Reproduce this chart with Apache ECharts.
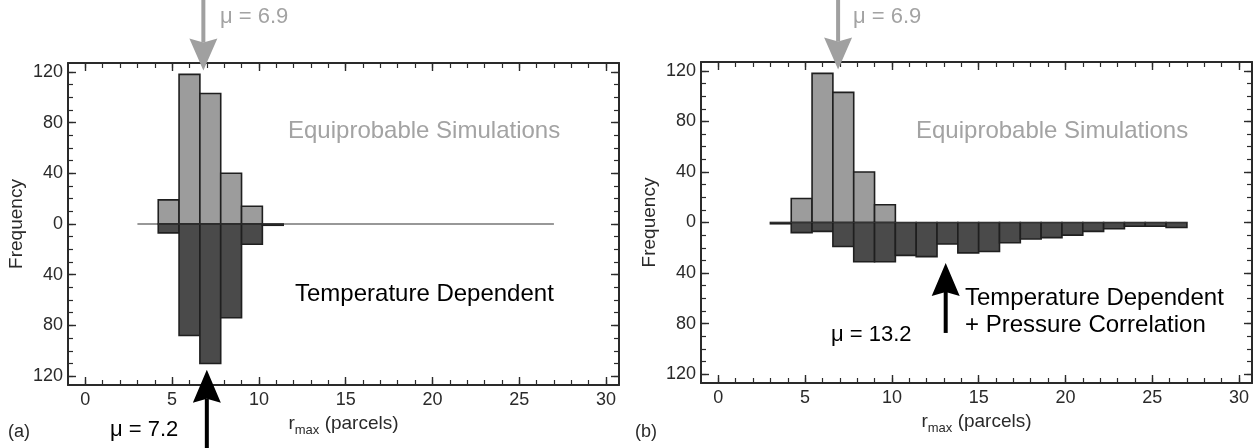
<!DOCTYPE html>
<html>
<head>
<meta charset="utf-8">
<script src="https://cdn.jsdelivr.net/npm/echarts@6/dist/echarts.min.js"></script>
<style>
html, body { margin: 0; padding: 0; background: #fff; }
#main { width: 1253px; height: 448px; }
</style>
</head>
<body>
<div id="main"></div>
<script>
var myChart = echarts.init(document.getElementById('main'));

// histogram bins: 20 bins of width 1.2 starting at r = 3
var binStart = 3;
var binWidth = 1.2;
var equiprobable  = [0, 19, 118, 103, 40, 14, 0, 0, 0, 0, 0, 0, 0, 0, 0, 0, 0, 0, 0, 0];
var tempDependent = [0, 7, 88, 110, 74, 16, 1, 0, 0, 0, 0, 0, 0, 0, 0, 0, 0, 0, 0, 0];
var tempPressure  = [1, 8, 7, 19, 31, 31, 26, 27, 17, 24, 23, 16, 13, 12, 10, 7, 5, 3, 3, 4];
var baseline = [[3, 0], [27, 0]];

var xMajor = [0, 5, 10, 15, 20, 25, 30];
var xMinor = [0, 1, 2, 3, 4, 5, 6, 7, 8, 9, 10, 11, 12, 13, 14, 15, 16, 17, 18, 19, 20,
              21, 22, 23, 24, 25, 26, 27, 28, 29, 30];
var yMajor = [-120, -80, -40, 0, 40, 80, 120];
var yMinor = [-120, -110, -100, -90, -80, -70, -60, -50, -40, -30, -20, -10, 0,
              10, 20, 30, 40, 50, 60, 70, 80, 90, 100, 110, 120];

// arrows: [x, y of the tip]
var grayArrowA = [[6.8, 121]];
var grayArrowB = [[6.9, 121]];
var blackArrowA = [[7.0, -115]];
var blackArrowB = [[13.1, -32]];

var FONT = "'Liberation Sans', Arial, Helvetica, sans-serif";
var INK = '#2a2a2a';
var GRAY_TXT = '#a3a3a3';

var grids = [
    {left: 68, top: 63, width: 551, height: 322},
    {left: 701, top: 62, width: 551, height: 321}
];

var xAxes = [], yAxes = [];
function addAxes(g) {
    var common = {type: 'value', gridIndex: g, splitLine: {show: false}};
    var line = {show: true, onZero: false, lineStyle: {color: INK, width: 2}};
    var noLine = {show: false, onZero: false};
    // bottom, major + labels
    xAxes.push(Object.assign({}, common, {
        position: 'bottom', min: -1, max: 30.75,
        name: '{a|r}{b|max}{a| (parcels)}', nameLocation: 'middle', nameGap: 25,
        nameTextStyle: {
            rich: {
                a: {fontSize: 19, fontFamily: FONT, color: INK},
                b: {fontSize: 13, fontFamily: FONT, color: INK, padding: [14, 0, 0, 0]}
            }
        },
        axisLine: line,
        axisTick: {show: true, inside: true, length: 8, customValues: xMajor, lineStyle: {color: INK, width: 1.4}},
        axisLabel: {show: true, customValues: xMajor, margin: 6, fontSize: 18, fontFamily: FONT, color: INK}
    }));
    // bottom minor
    xAxes.push(Object.assign({}, common, {
        position: 'bottom', min: -1, max: 30.75,
        axisLine: noLine,
        axisTick: {show: true, inside: true, length: 5, customValues: xMinor, lineStyle: {color: INK, width: 1.2}},
        axisLabel: {show: false}
    }));
    // top major
    xAxes.push(Object.assign({}, common, {
        position: 'top', min: -1, max: 30.75,
        axisLine: line,
        axisTick: {show: true, inside: true, length: 8, customValues: xMajor, lineStyle: {color: INK, width: 1.4}},
        axisLabel: {show: false}
    }));
    // top minor
    xAxes.push(Object.assign({}, common, {
        position: 'top', min: -1, max: 30.75,
        axisLine: noLine,
        axisTick: {show: true, inside: true, length: 5, customValues: xMinor, lineStyle: {color: INK, width: 1.2}},
        axisLabel: {show: false}
    }));

    // left major + labels
    yAxes.push(Object.assign({}, common, {
        position: 'left', min: -127, max: 127,
        name: 'Frequency', nameLocation: 'middle', nameGap: 42,
        nameTextStyle: {fontSize: 19, fontFamily: FONT, color: INK},
        axisLine: line,
        axisTick: {show: true, inside: true, length: 8, customValues: yMajor, lineStyle: {color: INK, width: 1.4}},
        axisLabel: {
            show: true, customValues: yMajor, margin: 5, fontSize: 18, fontFamily: FONT, color: INK,
            formatter: function (v) { return Math.abs(v); }
        }
    }));
    yAxes.push(Object.assign({}, common, {
        position: 'left', min: -127, max: 127,
        axisLine: noLine,
        axisTick: {show: true, inside: true, length: 5, customValues: yMinor, lineStyle: {color: INK, width: 1.2}},
        axisLabel: {show: false}
    }));
    yAxes.push(Object.assign({}, common, {
        position: 'right', min: -127, max: 127,
        axisLine: line,
        axisTick: {show: true, inside: true, length: 8, customValues: yMajor, lineStyle: {color: INK, width: 1.4}},
        axisLabel: {show: false}
    }));
    yAxes.push(Object.assign({}, common, {
        position: 'right', min: -127, max: 127,
        axisLine: noLine,
        axisTick: {show: true, inside: true, length: 5, customValues: yMinor, lineStyle: {color: INK, width: 1.2}},
        axisLabel: {show: false}
    }));
}
addAxes(0);
addAxes(1);

function binData(values) {
    var out = [];
    values.forEach(function (v, i) {
        if (v > 0) out.push([i, v]);
    });
    return out;
}

function histItem(sign, fill) {
    return function (params, api) {
        var i = api.value(0), v = api.value(1);
        var x0 = binStart + i * binWidth;
        var p0 = api.coord([x0, 0]);
        var p1 = api.coord([x0 + binWidth, sign * v]);
        return {
            type: 'rect',
            shape: {
                x: p0[0], y: Math.min(p0[1], p1[1]),
                width: p1[0] - p0[0], height: Math.abs(p1[1] - p0[1])
            },
            style: {fill: fill, stroke: '#1f1f1f', lineWidth: 1.6}
        };
    };
}

// dir 1: tail above the tip (points down), -1: tail below (points up)
function arrowItem(dir, color, headLen, headW, shaftW, len) {
    return function (params, api) {
        var tip = api.coord([api.value(0), api.value(1)]);
        var baseY = tip[1] - dir * headLen;
        var notchY = baseY + dir * 4;
        var tailY = tip[1] - dir * len;
        return {
            type: 'group',
            children: [{
                type: 'rect',
                shape: {x: tip[0] - shaftW / 2, y: Math.min(notchY, tailY), width: shaftW, height: Math.abs(tailY - notchY)},
                style: {fill: color}
            }, {
                type: 'polygon',
                shape: {points: [[tip[0], tip[1]], [tip[0] - headW / 2, baseY], [tip[0], notchY], [tip[0] + headW / 2, baseY]]},
                style: {fill: color}
            }]
        };
    };
}

function panelSeries(g, lower, grayArrow, blackArrow, blackLen) {
    var xi = g * 4, yi = g * 4;
    return [{
        type: 'line', xAxisIndex: xi, yAxisIndex: yi, data: baseline,
        symbol: 'none', silent: true, lineStyle: {color: '#333', width: 1.2}
    }, {
        type: 'custom', xAxisIndex: xi, yAxisIndex: yi, data: binData(equiprobable),
        renderItem: histItem(1, '#9c9c9c'), silent: true
    }, {
        type: 'custom', xAxisIndex: xi, yAxisIndex: yi, data: binData(lower),
        renderItem: histItem(-1, '#4a4a4a'), silent: true
    }, {
        type: 'custom', xAxisIndex: xi, yAxisIndex: yi, data: grayArrow, clip: false, z: 5,
        renderItem: arrowItem(1, '#a0a0a0', 32, 28, 4, 80), silent: true
    }, {
        type: 'custom', xAxisIndex: xi, yAxisIndex: yi, data: blackArrow, clip: false, z: 5,
        renderItem: arrowItem(-1, '#000', 33, 28, 4, blackLen), silent: true
    }];
}

function txt(text, x, y, size, color) {
    return {
        type: 'text', x: x, y: y, silent: true, z: 10,
        style: {text: text, fill: color, fontSize: size, fontFamily: FONT, verticalAlign: 'middle'}
    };
}

option = {
    backgroundColor: '#fff',
    animation: false,
    grid: grids,
    xAxis: xAxes,
    yAxis: yAxes,
    series: [].concat(
        panelSeries(0, tempDependent, grayArrowA, blackArrowA, 90),
        panelSeries(1, tempPressure, grayArrowB, blackArrowB, 70)
    ),
    graphic: [
        txt('μ = 6.9', 220, 17, 22, GRAY_TXT),
        txt('Equiprobable Simulations', 288, 131, 24, GRAY_TXT),
        txt('Temperature Dependent', 295, 294, 24, '#000'),
        txt('μ = 7.2', 110, 430, 22, '#000'),
        txt('(a)', 8, 432, 18, INK),
        txt('μ = 6.9', 853, 17, 22, GRAY_TXT),
        txt('Equiprobable Simulations', 916, 131, 24, GRAY_TXT),
        txt('Temperature Dependent', 965, 298, 24, '#000'),
        txt('+ Pressure Correlation', 965, 325, 24, '#000'),
        txt('μ = 13.2', 831, 335, 22, '#000'),
        txt('(b)', 635, 432, 18, INK)
    ]
};

if (option && typeof option === 'object') {
    myChart.setOption(option, true);
}
</script>
</body>
</html>
